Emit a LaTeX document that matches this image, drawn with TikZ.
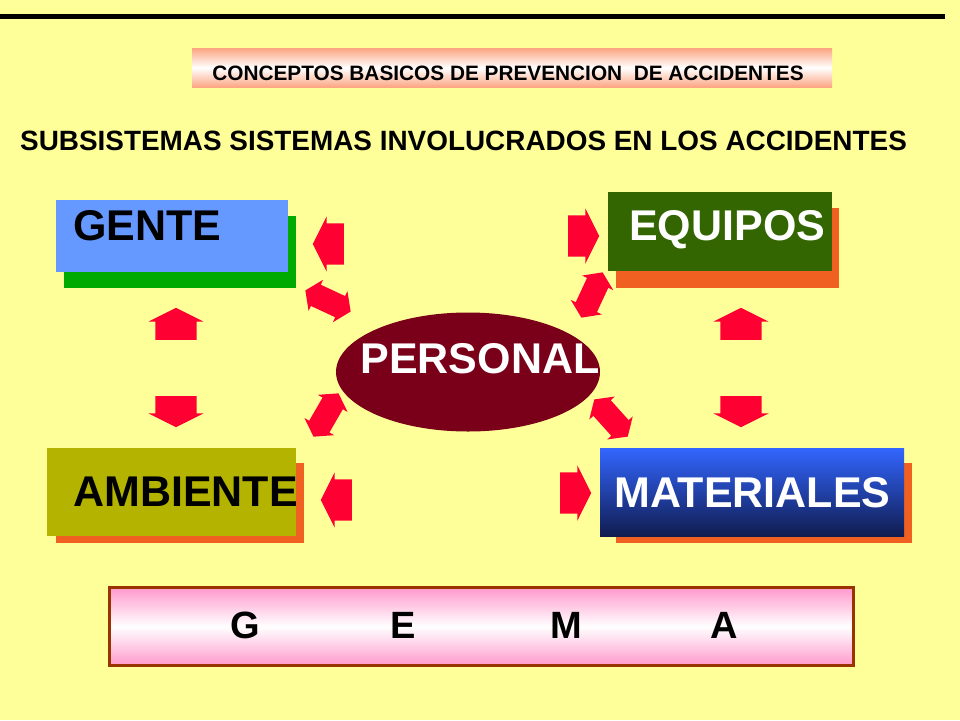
\documentclass[tikz,border=0pt]{standalone}
\usepackage{fontspec}
\setmainfont{Liberation Sans}
\usetikzlibrary{shapes.arrows,shapes.geometric}
\definecolor{fondo}{RGB}{255,255,153}
\definecolor{rojo}{RGB}{255,0,51}
\definecolor{azulgente}{RGB}{102,153,255}
\definecolor{verdegente}{RGB}{0,170,0}
\definecolor{verdeequipo}{RGB}{51,102,0}
\definecolor{naranja}{RGB}{240,96,32}
\definecolor{vino}{RGB}{122,0,25}
\definecolor{oliva}{RGB}{180,180,0}
\definecolor{azulclaro}{RGB}{51,102,255}
\definecolor{azuloscuro}{RGB}{16,28,80}
\definecolor{salmon}{RGB}{252,165,130}
\definecolor{rosa}{RGB}{255,153,204}
\definecolor{cafe}{RGB}{153,51,0}
\tikzset{
  bloque/.style={rectangle, inner sep=0pt, anchor=north west},
  rotulo/.style={inner sep=0pt, anchor=base west, font=\fontsize{43}{43}\selectfont\bfseries},
  flecha/.style={single arrow, fill=rojo, inner xsep=0pt, inner ysep=20.5pt, minimum height=31pt,
    single arrow head extend=7pt, single arrow tip angle=127, anchor=tail},
  doble/.style={double arrow, fill=rojo, inner xsep=0pt, inner ysep=11.5pt, minimum height=50pt,
    double arrow head extend=5.5pt, double arrow tip angle=112},
}
\begin{document}
\begin{tikzpicture}[x=1pt,y=-1pt]
        %背景
        \fill[fondo] (0,0) rectangle (960,720);
        \useasboundingbox (0,0) rectangle (960,720);
        %顶部黑线
        \draw[line width=5pt] (0,16) -- (945,16);
        %标题
        \node[bloque, minimum width=640pt, minimum height=39pt, top color=salmon, bottom color=salmon, middle color=white] (titulo) at (192,48) {};
        \node[inner sep=0pt, anchor=base, font=\fontsize{20.8}{21}\selectfont\bfseries] (titulotexto) at (508,80) {CONCEPTOS BASICOS DE PREVENCION\ \ DE ACCIDENTES};
        \node[inner sep=0pt, anchor=base west, font=\fontsize{27.9}{28}\selectfont\bfseries] (subtitulo) at (20,150) {SUBSISTEMAS SISTEMAS INVOLUCRADOS EN LOS ACCIDENTES};
        %GENTE
        \node[bloque, fill=verdegente, minimum width=232pt, minimum height=72pt] (genteSombra) at (64,216) {};
        \node[bloque, fill=azulgente, minimum width=232pt, minimum height=72pt] (gente) at (56,200) {};
        \node[rotulo] (genteTexto) at (73,240) {GENTE};
        %EQUIPOS
        \node[bloque, fill=naranja, minimum width=223pt, minimum height=80pt] (equiposSombra) at (616,208) {};
        \node[bloque, fill=verdeequipo, minimum width=224pt, minimum height=79pt] (equipos) at (608,192) {};
        \node[rotulo, text=white] (equiposTexto) at (629,240) {EQUIPOS};
        %AMBIENTE
        \node[bloque, fill=naranja, minimum width=248pt, minimum height=80pt] (ambienteSombra) at (56,463) {};
        \node[bloque, fill=oliva, minimum width=249pt, minimum height=88pt] (ambiente) at (47,448) {};
        \node[rotulo] (ambienteTexto) at (73,506) {AMBIENTE};
        %MATERIALES
        \node[bloque, fill=naranja, minimum width=296pt, minimum height=80pt] (materialesSombra) at (616,463) {};
        \node[bloque, top color=azulclaro, bottom color=azuloscuro, minimum width=304pt, minimum height=88pt] (materiales) at (600,448) {};
        \node[rotulo, text=white] (materialesTexto) at (614,507) {MATERIALES};
        %PERSONAL
        \node[ellipse, fill=vino, minimum width=264pt, minimum height=119pt, inner sep=0pt] (personal) at (468,372) {};
        \node[rotulo, text=white, anchor=base] (personalTexto) at (480,373) {PERSONAL};
        %GEMA
        \node[bloque, draw=cafe, line width=3pt, minimum width=744pt, minimum height=78pt, top color=rosa, bottom color=rosa, middle color=white] (gema) at (108,586) {};
        \foreach \l/\x in {G/245,E/403,M/566,A/724}
            \node[inner sep=0pt, anchor=base, font=\fontsize{38}{38}\selectfont\bfseries] (letra\l) at (\x,638) {\l};
        %箭头
        \node[flecha, rotate=180] (fgente) at (344,244) {};
        \node[flecha] (fequipos) at (568,236) {};
        \node[flecha, rotate=180] (fambiente) at (352,500) {};
        \node[flecha] (fmateriales) at (560,493) {};
        \foreach \x in {176,741}
        {
            \node[flecha, rotate=90, minimum height=32pt] (arriba\x) at (\x,340) {};
            \node[flecha, rotate=-90] (abajo\x) at (\x,396) {};
        };
        %双向箭头
        \node[doble, rotate=-25] (dgente) at (328,301) {};
        \node[doble, rotate=65] (dequipos) at (592,295) {};
        \node[doble, rotate=60] (dambiente) at (326,415) {};
        \node[doble, rotate=-48] (dmateriales) at (611,418) {};
\end{tikzpicture}
\end{document}
